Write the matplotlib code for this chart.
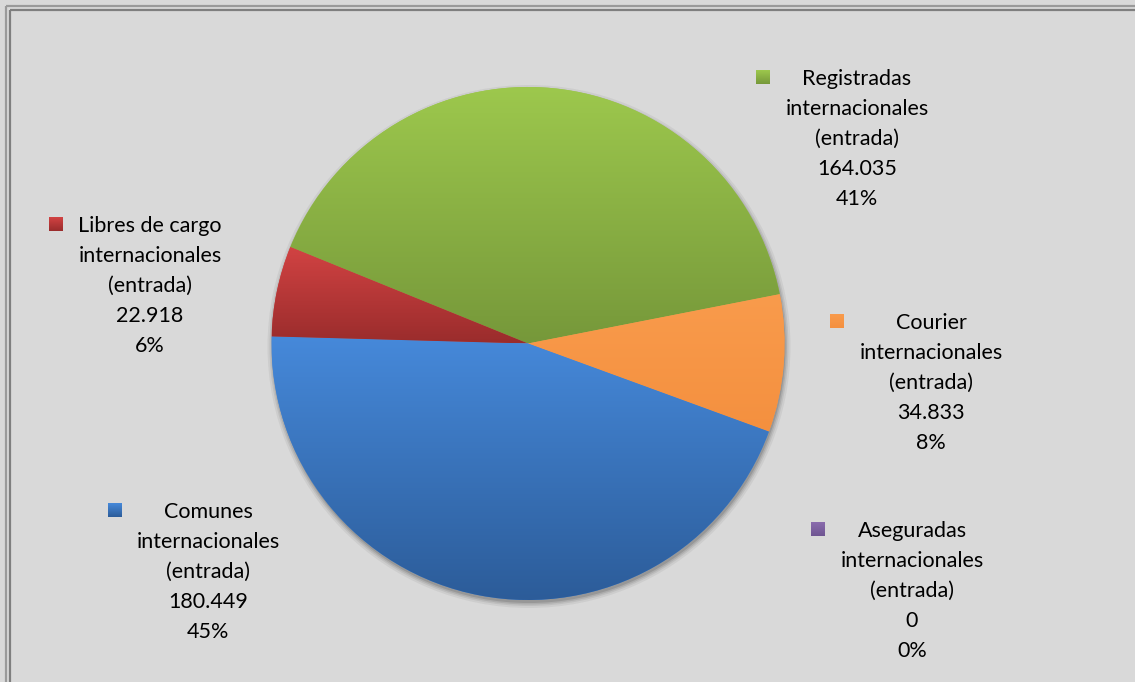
import numpy as np
import matplotlib
matplotlib.use('Agg')
import matplotlib.pyplot as plt
from matplotlib.colors import LinearSegmentedColormap
from matplotlib.patches import Circle

### data, in the order the slices go round (clockwise)
names = ['Registradas\ninternacionales\n(entrada)',
         'Courier\ninternacionales\n(entrada)',
         'Aseguradas\ninternacionales\n(entrada)',
         'Comunes\ninternacionales\n(entrada)',
         'Libres de cargo\ninternacionales\n(entrada)']
values = [164035, 34833, 0, 180449, 22918]
pct_labels = ['41%', '8%', '0%', '45%', '6%']

### gradient colours per slice (top, bottom)
col_top = ['#9dc84d', '#f99b4c', '#8a6cae', '#4689da', '#d24343']
col_bot = ['#76983a', '#f4903f', '#6f5591', '#2c5c99', '#9a2c2c']

### label layout, pixel coords (x centre of text, baseline of first line, marker x)
lab_x = [857, 931, 912, 208, 150]
lab_y = [85, 329, 537, 518, 232]
mark_x = [763, 837, 818, 115, 56]

W, H = 1135, 682
bg = '#d9d9d9'
plt.rcParams['font.family'] = ['Lato', 'DejaVu Sans']

fig = plt.figure(figsize=(W / 100, H / 100), dpi=100, facecolor=bg)
ax = fig.add_axes([0, 0, 1, 1])
ax.set_facecolor(bg)

cx, cy, R = 528, H - 343.5, 256.5

### soft shadow under the pie
for k, a in zip([7, 5, 3.5, 2], [0.05, 0.07, 0.09, 0.12]):
    ax.add_patch(Circle((cx + 1, cy - 3), R + k - 2, facecolor='#000000', alpha=a,
                        edgecolor='none', zorder=1))

wedges, _ = ax.pie(values, startangle=157.9, counterclock=False,
                   center=(cx, cy), radius=R,
                   colors=col_top, wedgeprops=dict(linewidth=0, zorder=2))

grad = np.linspace(0, 1, 256).reshape(-1, 1)
for i, w in enumerate(wedges):
    if values[i] == 0:
        continue
    bb = w.get_path().get_extents()
    cmap = LinearSegmentedColormap.from_list('g%d' % i, [col_top[i], col_bot[i]])
    im = ax.imshow(grad, cmap=cmap, aspect='auto', origin='upper',
                   extent=[bb.x0, bb.x1, bb.y0, bb.y1], zorder=3, interpolation='bilinear')
    im.set_clip_path(w)

### labels with legend keys
for i in range(len(values)):
    lines = names[i].split('\n') + [f'{values[i]:,}'.replace(',', '.'), pct_labels[i]]
    for j, ln in enumerate(lines):
        ax.text(lab_x[i], H - (lab_y[i] + 30 * j), ln, ha='center', va='baseline',
                fontsize=15.5, color='#000000', zorder=5)
    my = H - (lab_y[i] - 8)
    cmap = LinearSegmentedColormap.from_list('m%d' % i, [col_top[i], col_bot[i]])
    ax.imshow(grad, cmap=cmap, aspect='auto', origin='upper',
              extent=[mark_x[i] - 7, mark_x[i] + 7, my - 7, my + 7], zorder=5)

### double frame at top and left
for off, c in [(5.5, '#9a9a9a'), (9.5, '#7f7f7f')]:
    ax.plot([off, off], [0, H - off], color=c, lw=1.6, zorder=6, solid_capstyle='butt')
    ax.plot([off, W], [H - off, H - off], color=c, lw=1.6, zorder=6, solid_capstyle='butt')

ax.set_xlim(0, W)
ax.set_ylim(0, H)
ax.set_aspect('auto')
ax.axis('off')

fig.savefig('out.png', dpi=100, facecolor=bg)
